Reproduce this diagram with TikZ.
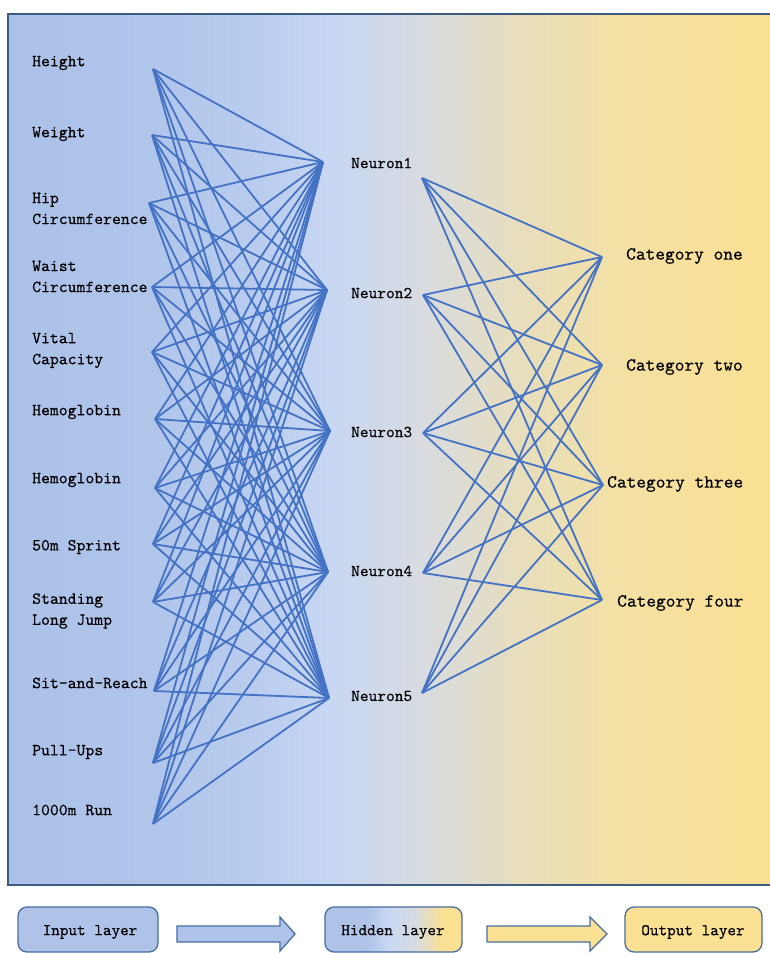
\documentclass[tikz,border=0pt]{standalone}
\usepackage{fontspec}
\newfontfamily\refmono{lmmono10-regular.otf}[FakeBold=0.3]
\definecolor{bgA}{RGB}{172,193,232}
\definecolor{bgB}{RGB}{176,197,234}
\definecolor{bgC}{RGB}{186,205,239}
\definecolor{bgD}{RGB}{200,215,242}
\definecolor{bgE}{RGB}{216,219,224}
\definecolor{bgF}{RGB}{232,222,188}
\definecolor{bgG}{RGB}{243,224,164}
\definecolor{bgH}{RGB}{250,224,146}
\definecolor{frameC}{RGB}{62,92,128}
\definecolor{boxBorder}{RGB}{72,110,160}
\definecolor{conC}{RGB}{68,114,196}
\definecolor{legBlue}{RGB}{175,195,233}
\definecolor{legYel}{RGB}{250,224,146}
\pgfdeclarehorizontalshading{bgshade}{100bp}{color(0bp)=(bgA); color(25bp)=(bgA); color(34.3bp)=(bgB); color(41.5bp)=(bgC); color(46.1bp)=(bgD); color(52bp)=(bgE); color(58.5bp)=(bgF); color(65bp)=(bgG); color(75bp)=(bgH); color(100bp)=(bgH)}
\pgfdeclarehorizontalshading{hidshade}{100bp}{color(0bp)=(legBlue); color(25bp)=(legBlue); color(40bp)=(legBlue); color(48bp)=(bgD); color(58bp)=(bgE); color(68bp)=(legYel); color(75bp)=(legYel); color(100bp)=(legYel)}
\tikzset{
  conn/.style={draw=conC, line width=1.8pt},
  inlab/.style={anchor=west, inner sep=0pt, align=left, font=\fontsize{16.9}{21}\selectfont\refmono},
  hidlab/.style={anchor=west, inner sep=0pt, font=\fontsize{16.6}{20}\selectfont\refmono},
  outlab/.style={anchor=west, inner sep=0pt, font=\fontsize{18.5}{22}\selectfont\refmono},
  legbox/.style={draw=boxBorder, line width=1.3pt, rounded corners=9pt},
  legtext/.style={inner sep=0pt, font=\fontsize{16.4}{20}\selectfont\refmono},
  legarrow/.style={draw=boxBorder, line width=1.3pt, line join=miter}
}
\begin{document}
\begin{tikzpicture}[x=1pt,y=-1pt]
\useasboundingbox (0,0) rectangle (769,953);
\fill[white] (0,0) rectangle (769,953);
% main frame
\path[shading=bgshade, draw=frameC, line width=2pt] (8,13.5) rectangle (775,885);

% input points
\coordinate (i1) at (153,69);
\coordinate (i2) at (152,135);
\coordinate (i3) at (149,203);
\coordinate (i4) at (152,287);
\coordinate (i5) at (152,352);
\coordinate (i6) at (155,419);
\coordinate (i7) at (155,488);
\coordinate (i8) at (153,544);
\coordinate (i9) at (153,602);
\coordinate (i10) at (154,691);
\coordinate (i11) at (153,763);
\coordinate (i12) at (153,824);
% hidden points
\coordinate (hL1) at (323,162);
\coordinate (hL2) at (327,290);
\coordinate (hL3) at (330,431);
\coordinate (hL4) at (328,572);
\coordinate (hL5) at (329,698);
\coordinate (hR1) at (422,178);
\coordinate (hR2) at (423,295);
\coordinate (hR3) at (423,433);
\coordinate (hR4) at (423,573);
\coordinate (hR5) at (422,693);
% output points
\coordinate (o1) at (602,257);
\coordinate (o2) at (602,365);
\coordinate (o3) at (603,485);
\coordinate (o4) at (602,600);

\foreach \i in {1,...,12}{
  \foreach \j in {1,...,5}{
    \draw[conn] (i\i) -- (hL\j);
  }
}
\foreach \j in {1,...,5}{
  \foreach \k in {1,...,4}{
    \draw[conn] (hR\j) -- (o\k);
  }
}

% input labels
\node[inlab] (t1) at (32,63) {Height};
\node[inlab] (t2) at (32,134) {Weight};
\node[inlab] (t3) at (32,208.5) {Hip\\Circumference};
\node[inlab] (t4) at (32,276.5) {Waist\\Circumference};
\node[inlab] (t5) at (32,350.5) {Vital\\Capacity};
\node[inlab] (t6) at (32,412) {Hemoglobin};
\node[inlab] (t7) at (32,480) {Hemoglobin};
\node[inlab] (t8) at (32,547) {50m Sprint};
\node[inlab] (t9) at (32,611) {Standing\\Long Jump};
\node[inlab] (t10) at (32,683) {Sit-and-Reach};
\node[inlab] (t11) at (32,752) {Pull-Ups};
\node[inlab] (t12) at (32,810) {1000m Run};

% hidden labels
\node[hidlab] (n1) at (351,163) {Neuron1};
\node[hidlab] (n2) at (351,293) {Neuron2};
\node[hidlab] (n3) at (351,432) {Neuron3};
\node[hidlab] (n4) at (351,571) {Neuron4};
\node[hidlab] (n5) at (351,696) {Neuron5};

% output labels
\node[outlab] (c1) at (626,256) {Category one};
\node[outlab] (c2) at (626,367) {Category two};
\node[outlab] (c3) at (607,484) {Category three};
\node[outlab] (c4) at (617,603) {Category four};

% legend
\path[legbox, fill=legBlue] (18,907) rectangle (158,952);
\node[legtext] (L1) at (90,932) {Input layer};
\path[legbox, shading=hidshade] (325,907) rectangle (462,952);
\node[legtext] (L2) at (393,932) {Hidden layer};
\path[legbox, fill=legYel] (625,907) rectangle (762,952);
\node[legtext] (L3) at (693,932) {Output layer};

\path[legarrow, fill=legBlue] (177,926) -- (280,926) -- (280,917) -- (295,934) -- (280,951) -- (280,942) -- (177,942) -- cycle;
\path[legarrow, fill=legYel] (487,926) -- (590,926) -- (590,917) -- (607,934) -- (590,951) -- (590,942) -- (487,942) -- cycle;
\end{tikzpicture}
\end{document}
